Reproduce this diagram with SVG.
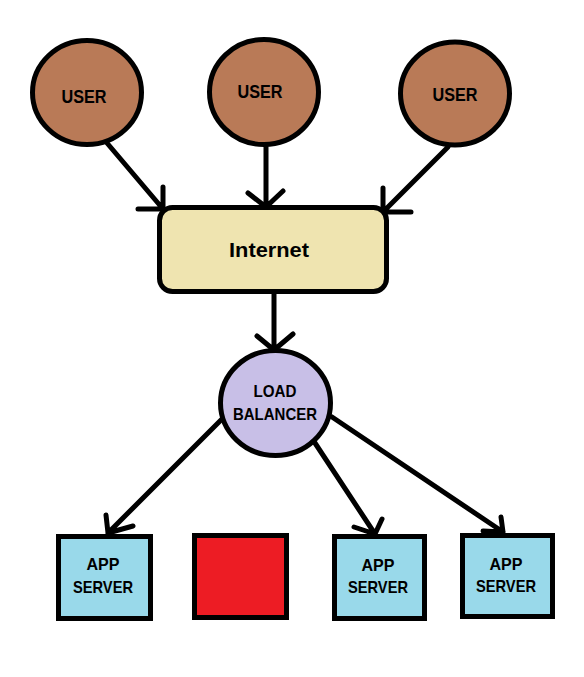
<svg xmlns="http://www.w3.org/2000/svg" width="584" height="677" viewBox="0 0 584 677">
<style>
.bg{fill:#ffffff}
.shape{stroke:#000000;stroke-width:5}
.user{fill:#B97A57}
.net{fill:#EFE4B0}
.lb{fill:#C8BFE7}
.app{fill:#99D9EA}
.dead{fill:#ED1C24}
.lbl{font-family:"Liberation Sans",Arial,sans-serif;font-weight:bold;fill:#000000;text-anchor:middle}
.conn{fill:none;stroke:#000000;stroke-width:5;stroke-linecap:round;stroke-linejoin:round}
</style>
<rect class="bg" x="0" y="0" width="584" height="677"/>
<g id="connectors">
  <path class="conn" d="M107,143 L163,209 M163,187 L163,210 M138,209 L163,209"/>
  <path class="conn" d="M266,147 L266,207 M248,193 L266,207 M283,191 L266,207"/>
  <path class="conn" d="M448,147 L383,212 M383,188 L383,213 M383,212 L411,212"/>
  <path class="conn" d="M274,294 L274,349 M257,336 L274,350 M293,334 L274,350"/>
  <path class="conn" d="M222,419 L108,533 M106,515 L108,533 M133,526 L108,533"/>
  <path class="conn" d="M315,443 L375,534 M354,527 L375,534 M382,519 L375,534"/>
  <path class="conn" d="M332,417 L503,532 M501,517 L503,532 M483,531 L503,532"/>
</g>
<g id="user1">
  <ellipse class="shape user" cx="87" cy="92.5" rx="54.5" ry="52"/>
  <text class="lbl" x="84" y="103" font-size="18" textLength="45" lengthAdjust="spacingAndGlyphs">USER</text>
</g>
<g id="user2">
  <ellipse class="shape user" cx="264" cy="92" rx="54.5" ry="52.5"/>
  <text class="lbl" x="260" y="98" font-size="18" textLength="45" lengthAdjust="spacingAndGlyphs">USER</text>
</g>
<g id="user3">
  <ellipse class="shape user" cx="455" cy="93.5" rx="54.5" ry="51.5"/>
  <text class="lbl" x="455" y="101" font-size="18" textLength="45" lengthAdjust="spacingAndGlyphs">USER</text>
</g>
<g id="internet">
  <rect class="shape net" x="159.5" y="207.5" width="227" height="84" rx="13" ry="13"/>
  <text class="lbl" x="269" y="257" font-size="21" textLength="80" lengthAdjust="spacingAndGlyphs">Internet</text>
</g>
<g id="loadbalancer">
  <ellipse class="shape lb" cx="275.5" cy="403" rx="55" ry="52.5"/>
  <text class="lbl" x="275" y="397" font-size="17" textLength="43" lengthAdjust="spacingAndGlyphs">LOAD</text>
  <text class="lbl" x="275" y="420" font-size="17" textLength="84" lengthAdjust="spacingAndGlyphs">BALANCER</text>
</g>
<g id="app1">
  <rect class="shape app" x="58.5" y="536.5" width="92" height="82"/>
  <text class="lbl" x="103" y="570" font-size="17" textLength="33" lengthAdjust="spacingAndGlyphs">APP</text>
  <text class="lbl" x="103" y="593" font-size="17" textLength="60" lengthAdjust="spacingAndGlyphs">SERVER</text>
</g>
<g id="failed">
  <rect class="shape dead" x="194.5" y="535.5" width="92" height="82"/>
</g>
<g id="app3">
  <rect class="shape app" x="334.5" y="536.5" width="90" height="82"/>
  <text class="lbl" x="378" y="571" font-size="17" textLength="33" lengthAdjust="spacingAndGlyphs">APP</text>
  <text class="lbl" x="378" y="593" font-size="17" textLength="60" lengthAdjust="spacingAndGlyphs">SERVER</text>
</g>
<g id="app4">
  <rect class="shape app" x="462.5" y="535.5" width="90" height="81"/>
  <text class="lbl" x="506" y="570" font-size="17" textLength="33" lengthAdjust="spacingAndGlyphs">APP</text>
  <text class="lbl" x="506" y="592" font-size="17" textLength="60" lengthAdjust="spacingAndGlyphs">SERVER</text>
</g>
</svg>
